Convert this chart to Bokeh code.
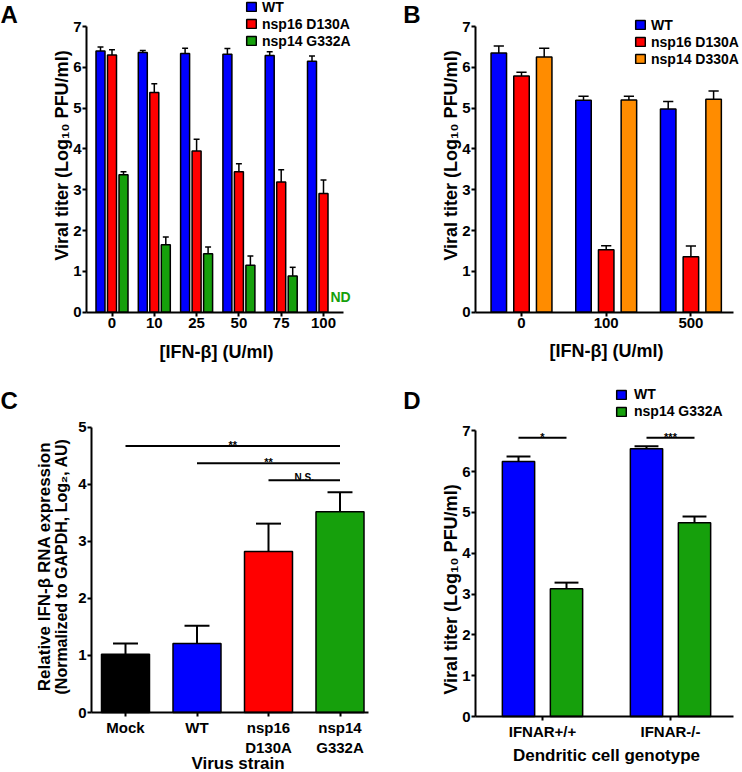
import math
from bokeh.plotting import figure
from bokeh.models import Range1d, FixedTicker, Label, Legend, LegendItem, ColumnDataSource
from bokeh.layouts import row, column
from bokeh.embed import file_html
from bokeh.resources import INLINE

# ---------------- data ----------------
# Panel A
a_doses = ["0", "10", "25", "50", "75", "100"]
a_wt = [6.40, 6.36, 6.34, 6.32, 6.29, 6.15]
a_wt_err = [0.10, 0.05, 0.13, 0.14, 0.09, 0.13]
a_nsp16 = [6.30, 5.38, 3.95, 3.44, 3.19, 2.91]
a_nsp16_err = [0.13, 0.22, 0.29, 0.20, 0.30, 0.33]
a_nsp14 = [3.37, 1.65, 1.43, 1.15, 0.89, float("nan")]   # last = ND
a_nsp14_err = [0.07, 0.19, 0.17, 0.23, 0.21, float("nan")]
a_nd_index = 5

# Panel B
b_doses = ["0", "100", "500"]
b_wt = [6.35, 5.19, 4.98]
b_wt_err = [0.17, 0.10, 0.18]
b_nsp16 = [5.79, 1.53, 1.36]
b_nsp16_err = [0.09, 0.10, 0.26]
b_nsp14 = [6.25, 5.20, 5.22]
b_nsp14_err = [0.22, 0.09, 0.20]

# Panel C
c_strains = ["Mock", "WT", "nsp16\nD130A", "nsp14\nG332A"]
c_values = [1.02, 1.21, 2.82, 3.52]
c_err = [0.19, 0.31, 0.49, 0.34]
c_sig_from = [0, 1, 2]
c_sig_to = [3, 3, 3]
c_sig_y = [4.67, 4.37, 4.07]
c_sig_text = ["**", "**", "N.S."]

# Panel D
d_genotypes = ["IFNAR+/+", "IFNAR-/-"]
d_wt = [6.25, 6.56]
d_wt_err = [0.12, 0.06]
d_nsp14 = [3.13, 4.75]
d_nsp14_err = [0.15, 0.15]
d_sig_y = [6.83, 6.83]
d_sig_text = ["*", "***"]

# ---------------- style ----------------
FONT = "Liberation Sans"
BLUE = "#0000FF"
RED = "#FF0000"
GREEN = "#16A00C"
ORANGE = "#FF8C00"
BLACK = "#000000"
QW, QH = 371, 386


def make_fig(g, ymax, xticks, xlabels):
    # g: geometry in panel pixels (category centre, category pitch, zero line, px per unit, axis x, axis end)
    c0, pitch, y0, ppu, ax_x, ax_end = g
    xr = ((0 - c0) / pitch, (QW - c0) / pitch)
    yr = ((y0 - QH) / ppu, y0 / ppu)
    p = figure(width=QW, height=QH, x_range=Range1d(*xr), y_range=Range1d(*yr),
               output_backend="svg", toolbar_location=None,
               min_border_left=0, min_border_right=0, min_border_top=0, min_border_bottom=0,
               min_border=0)
    p.outline_line_color = None
    p.background_fill_color = "white"
    p.border_fill_color = "white"
    p.xgrid.visible = False
    p.ygrid.visible = False
    for ax in (p.xaxis[0], p.yaxis[0]):
        ax.axis_line_width = 2
        ax.axis_line_color = "black"
        ax.major_tick_line_width = 2
        ax.major_tick_line_color = "black"
        ax.major_tick_out = 4
        ax.major_tick_in = 0
        ax.minor_tick_line_color = None
        ax.major_label_text_font = FONT
        ax.major_label_text_font_style = "bold"
        ax.major_label_text_font_size = "15px"
        ax.major_label_text_color = "black"
    p.xaxis[0].major_label_standoff = 2
    p.yaxis[0].major_label_standoff = 1
    p.yaxis[0].fixed_location = (ax_x - c0) / pitch
    p.yaxis[0].bounds = (0, ymax)
    p.yaxis[0].ticker = FixedTicker(ticks=list(range(ymax + 1)))
    p.xaxis[0].fixed_location = 0
    p.xaxis[0].bounds = ((ax_x - c0) / pitch, (ax_end - c0) / pitch)
    p.xaxis[0].ticker = FixedTicker(ticks=xticks)
    p.xaxis[0].major_label_overrides = {t: l for t, l in zip(xticks, xlabels)}
    return p


def slabel(p, rx, ry, text, size, angle=0.0, align="center", baseline="middle", color="black"):
    p.add_layout(Label(x=rx, y=QH - ry, x_units="screen", y_units="screen",
                       text=text, angle=angle, text_align=align, text_baseline=baseline,
                       text_font=FONT, text_font_size=f"{size}px", text_font_style="bold",
                       text_color=color))


def bars(p, xs, vals, errs, width, color, cap_half, stem_w):
    src = ColumnDataSource(dict(
        x=xs, top=vals, hi=[v + e for v, e in zip(vals, errs)],
        xl=[x - cap_half for x in xs], xr=[x + cap_half for x in xs]))
    r = p.vbar(x="x", top="top", bottom=0, width=width, source=src,
               fill_color=color, line_color="black", line_width=1.5)
    p.segment(x0="x", y0="top", x1="x", y1="hi", source=src, line_color="black", line_width=stem_w)
    p.segment(x0="xl", y0="hi", x1="xr", y1="hi", source=src, line_color="black", line_width=stem_w)
    return r


def add_legend(p, items, glyph_left, first_center, standoff, row_h=17):
    n = len(items)
    top = first_center - row_h / 2.0
    bottom = top + n * row_h
    leg = Legend(items=items, location=(glyph_left, QH - bottom), orientation="vertical",
                 glyph_width=12, glyph_height=11, label_height=row_h,
                 label_standoff=standoff, spacing=0, padding=0, margin=0,
                 border_line_color=None, background_fill_alpha=0,
                 label_text_font=FONT, label_text_font_style="bold",
                 label_text_font_size="14px", label_text_color="black")
    p.add_layout(leg)


# ---------------- Panel A ----------------
gA = (111.5, 42.3, 311.7, 285.7 / 7, 86, 343)
a_off, a_w = 11.5 / gA[1], 9.0 / gA[1]
pA = make_fig(gA, 7, list(range(len(a_doses))), a_doses)
idx = list(range(len(a_doses)))
rA1 = bars(pA, [i - a_off for i in idx], a_wt, a_wt_err, a_w, BLUE, a_w * 0.33, 1.5)
rA2 = bars(pA, [i for i in idx], a_nsp16, a_nsp16_err, a_w, RED, a_w * 0.33, 1.5)
rA3 = bars(pA, [i + a_off for i in idx], a_nsp14, a_nsp14_err, a_w, GREEN, a_w * 0.33, 1.5)
pA.add_layout(Label(x=a_nd_index + a_off - a_w / 2, y=0.37, text="ND", text_align="left",
                    text_baseline="middle", text_font=FONT, text_font_size="14px",
                    text_font_style="bold", text_color=GREEN))
add_legend(pA, [LegendItem(label="WT", renderers=[rA1]),
                LegendItem(label="nsp16 D130A", renderers=[rA2]),
                LegendItem(label="nsp14 G332A", renderers=[rA3])], 245, 6.7, 5)
slabel(pA, 61.5, 155, "Viral titer (Log\u2081\u2080 PFU/ml)", 18, angle=math.pi / 2)
slabel(pA, 216, 351, "[IFN-\u03b2] (U/ml)", 18)
slabel(pA, 0, 0.5, "A", 24, align="left", baseline="top")

# ---------------- Panel B ----------------
gB = (150, 84.7, 311.7, 285.7 / 7, 104, 361.7)
b_off, b_w = 22.7 / gB[1], 15.5 / gB[1]
pB = make_fig(gB, 7, list(range(len(b_doses))), b_doses)
idx = list(range(len(b_doses)))
rB1 = bars(pB, [i - b_off for i in idx], b_wt, b_wt_err, b_w, BLUE, b_w * 0.33, 1.5)
rB2 = bars(pB, [i for i in idx], b_nsp16, b_nsp16_err, b_w, RED, b_w * 0.33, 1.5)
rB3 = bars(pB, [i + b_off for i in idx], b_nsp14, b_nsp14_err, b_w, ORANGE, b_w * 0.33, 1.5)
add_legend(pB, [LegendItem(label="WT", renderers=[rB1]),
                LegendItem(label="nsp16 D130A", renderers=[rB2]),
                LegendItem(label="nsp14 D330A", renderers=[rB3])], 263, 24.5, 5)
slabel(pB, 79, 155, "Viral titer (Log\u2081\u2080 PFU/ml)", 18, angle=math.pi / 2)
slabel(pB, 235, 350.5, "[IFN-\u03b2] (U/ml)", 18)
slabel(pB, 31.7, 0.5, "B", 24, align="left", baseline="top")

# ---------------- Panel C ----------------
gC = (125, 71.5, 326, 285.3 / 5, 91, 368)
c_w = 48.0 / gC[1]
pC = make_fig(gC, 5, list(range(len(c_strains))), c_strains)
c_colors = [BLACK, BLUE, RED, GREEN]
for i in range(len(c_strains)):
    bars(pC, [i], [c_values[i]], [c_err[i]], c_w, c_colors[i], c_w * 0.26, 2)
sig_src = ColumnDataSource(dict(x0=c_sig_from, x1=c_sig_to, y=c_sig_y))
pC.segment(x0="x0", y0="y", x1="x1", y1="y", source=sig_src, line_color="black", line_width=2)
for a, b, yv, t in zip(c_sig_from, c_sig_to, c_sig_y, c_sig_text):
    pC.add_layout(Label(x=(a + b) / 2.0, y=yv, y_offset=(3 if t == "N.S." else 1), text=t,
                        text_align="center", text_baseline="alphabetic", text_font=FONT,
                        text_font_size=("10px" if t == "N.S." else "11px"),
                        text_font_style="bold", text_color="black"))
slabel(pC, 44, 180, "Relative IFN-\u03b2 RNA expression", 17, angle=math.pi / 2)
slabel(pC, 61, 180, "(Normalized to GAPDH, Log\u2082, AU)", 16, angle=math.pi / 2)
slabel(pC, 237.5, 386, "Virus strain", 17, baseline="bottom")
slabel(pC, 0, 0, "C", 24, align="left", baseline="top")

# ---------------- Panel D ----------------
gD = (171, 128.0, 330, 285.7 / 7, 104, 361.7)
d_off, d_w = 24.0 / gD[1], 32.3 / gD[1]
pD = make_fig(gD, 7, list(range(len(d_genotypes))), d_genotypes)
idx = list(range(len(d_genotypes)))
rD1 = bars(pD, [i - d_off for i in idx], d_wt, d_wt_err, d_w, BLUE, d_w * 0.37, 2)
rD2 = bars(pD, [i + d_off for i in idx], d_nsp14, d_nsp14_err, d_w, GREEN, d_w * 0.37, 2)
dsig = ColumnDataSource(dict(x0=[i - d_off for i in idx], x1=[i + d_off for i in idx], y=d_sig_y))
pD.segment(x0="x0", y0="y", x1="x1", y1="y", source=dsig, line_color="black", line_width=2)
for i, (yv, t) in enumerate(zip(d_sig_y, d_sig_text)):
    pD.add_layout(Label(x=i, y=yv, y_offset=1, text=t, text_align="center",
                        text_baseline="alphabetic", text_font=FONT, text_font_size="11px",
                        text_font_style="bold", text_color="black"))
add_legend(pD, [LegendItem(label="WT", renderers=[rD1]),
                LegendItem(label="nsp14 G332A", renderers=[rD2])], 244, 8, 7)
slabel(pD, 79, 203, "Viral titer (Log\u2081\u2080 PFU/ml)", 18, angle=math.pi / 2)
slabel(pD, 235, 369, "Dendritic cell genotype", 17)
slabel(pD, 31.7, 0, "D", 24, align="left", baseline="top")

layout = column(row(pA, pB), row(pC, pD))
open("out.html", "w").write(file_html(layout, INLINE))
